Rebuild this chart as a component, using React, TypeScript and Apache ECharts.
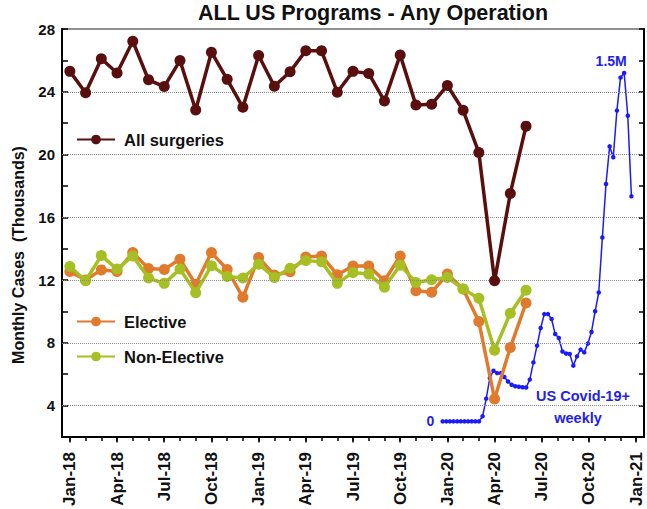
import React, { useEffect, useRef } from 'react';
import * as echarts from 'echarts';

const categories = [
  'Jan-18', 'Feb-18', 'Mar-18', 'Apr-18', 'May-18', 'Jun-18', 'Jul-18', 'Aug-18', 'Sep-18', 'Oct-18', 'Nov-18', 'Dec-18',
  'Jan-19', 'Feb-19', 'Mar-19', 'Apr-19', 'May-19', 'Jun-19', 'Jul-19', 'Aug-19', 'Sep-19', 'Oct-19', 'Nov-19', 'Dec-19',
  'Jan-20', 'Feb-20', 'Mar-20', 'Apr-20', 'May-20', 'Jun-20', 'Jul-20', 'Aug-20', 'Sep-20', 'Oct-20', 'Nov-20', 'Dec-20',
  'Jan-21',
];

const allSurgeries = [
  25.3, 23.94, 26.1, 25.2, 27.22, 24.76, 24.33, 25.99, 22.84, 26.52, 24.79, 23.01,
  26.31, 24.35, 25.28, 26.62, 26.61, 23.97, 25.3, 25.17, 23.41, 26.35, 23.15, 23.2,
  24.4, 22.82, 20.13, 11.95, 17.52, 21.81,
];

const elective = [
  12.55, 12.0, 12.65, 12.55, 13.75, 12.74, 12.68, 13.33, 11.73, 13.75, 12.68, 10.9,
  13.44, 12.32, 12.53, 13.47, 13.54, 12.34, 12.9, 12.9, 11.96, 13.54, 11.32, 11.22,
  12.38, 11.43, 9.36, 4.42, 7.7, 10.54,
];

const nonElective = [
  12.87, 11.96, 13.56, 12.7, 13.54, 12.13, 11.79, 12.7, 11.2, 12.91, 12.23, 12.13,
  13.01, 12.17, 12.76, 13.25, 13.16, 11.79, 12.49, 12.38, 11.54, 12.95, 11.85, 12.02,
  12.17, 11.43, 10.84, 7.53, 9.89, 11.35,
];

// US Covid-19+ weekly cases (thousands), starting late Dec-2019
const covidWeekly = [
  0, 0, 0, 0, 0, 0, 0, 0, 0, 0, 0,
  22, 98, 187, 218, 208, 208, 191, 172, 158, 151, 149, 147, 146, 180, 254, 326,
  402, 462, 462, 441, 376, 359, 301, 292, 290, 240, 280, 309, 297, 335, 385, 474,
  555, 792, 1022, 1184, 1137, 1338, 1480, 1500, 1316, 969,
];
const covidStartMonth = 23.7; // months after Jan-18
const weeksPerMonth = 52 / 12;

const gridLineValues = [4, 8, 12, 16, 20, 24];

const FONT = 'Liberation Sans, Arial, sans-serif';
const C_ALL = '#5a0f0f';
const C_ELEC = '#e07a2c';
const C_NON = '#a6bf22';
const C_COVID = '#1a1aff';
const C_COVID_TEXT = '#2222ee';

export default function App() {
  const ref = useRef<HTMLDivElement>(null);
  useEffect(() => {
    if (!ref.current) return;
    const chart = echarts.init(ref.current, null, { renderer: 'svg' });
    const peakIdx = covidWeekly.indexOf(Math.max(...covidWeekly));
    const covidData = covidWeekly.map((v, i) => {
      const item: any = { value: [covidStartMonth + i / weeksPerMonth, v] };
      if (i === 0) {
        item.label = { show: true, position: 'left', distance: 6, formatter: '0', color: C_COVID_TEXT, fontSize: 14, fontWeight: 'bold', fontFamily: FONT };
      }
      if (i === peakIdx) {
        item.label = { show: true, position: 'top', distance: 3, offset: [-13, 0], formatter: '1.5M', color: C_COVID_TEXT, fontSize: 14, fontWeight: 'bold', fontFamily: FONT };
      }
      return item;
    });

    const legendCommon = {
      orient: 'horizontal',
      left: 76,
      itemWidth: 38,
      itemHeight: 12,
      padding: 0,
      textStyle: { fontSize: 16.5, fontWeight: 'bold', color: '#111', fontFamily: FONT, padding: [0, 0, 0, 4] },
    };

    chart.setOption({
      animation: false,
      backgroundColor: '#fff',
      grid: { left: 62, right: 3, top: 29, bottom: 72, show: true, borderColor: '#222', borderWidth: 1.2, backgroundColor: 'transparent' },
      legend: [
        { ...legendCommon, data: ['All surgeries'], top: 131 },
        { ...legendCommon, data: ['Elective'], top: 313 },
        { ...legendCommon, data: ['Non-Elective'], top: 348 },
      ],
      xAxis: [
        {
          type: 'category', data: categories, boundaryGap: true, position: 'bottom',
          axisLine: { show: true, onZero: false, lineStyle: { color: '#000', width: 2 } },
          axisTick: { show: true, alignWithLabel: true, interval: 0, length: 4, lineStyle: { color: '#000', width: 1.5 } },
          axisLabel: { show: false },
          splitLine: { show: false },
        },
        {
          type: 'category', data: categories, boundaryGap: true, position: 'bottom',
          axisLine: { show: false, onZero: false },
          axisTick: { show: true, alignWithLabel: true, interval: 2, length: 5.5, lineStyle: { color: '#000', width: 1.5 } },
          axisLabel: { show: true, interval: 2, rotate: 90, margin: 15, fontSize: 17, fontWeight: 'bold', color: '#111', fontFamily: FONT },
          splitLine: { show: false },
        },
        { type: 'value', min: -0.5, max: 36.5, show: false, axisLine: { onZero: false } },
      ],
      yAxis: [
        {
          type: 'value', min: 2, max: 28, interval: 2, position: 'left',
          axisLine: { show: true, onZero: false, lineStyle: { color: '#000', width: 2 } },
          axisTick: { show: true, inside: true, length: 6, lineStyle: { color: '#000', width: 1.5 } },
          axisLabel: {
            show: true, margin: 7, fontSize: 15, fontWeight: 'bold', color: '#111', fontFamily: FONT,
            formatter: (v: number) => (v % 4 === 0 ? String(v) : ''),
          },
          splitLine: { show: false },
        },
        {
          type: 'value', min: 2, max: 28, interval: 2, position: 'right',
          axisLine: { show: true, onZero: false, lineStyle: { color: '#000', width: 2 } },
          axisTick: { show: true, inside: true, length: 5, lineStyle: { color: '#000', width: 1.5 } },
          axisLabel: { show: false },
          splitLine: { show: false },
        },
        { type: 'value', min: -67.2, max: 1689.4, show: false, axisLine: { onZero: false } },
      ],
      series: [
        {
          name: 'Gridlines', type: 'line', xAxisIndex: 0, yAxisIndex: 0,
          data: [], silent: true, z: 1,
          markLine: {
            silent: true, symbol: ['none', 'none'], label: { show: false },
            lineStyle: { color: '#8a8a8a', type: 'dotted', width: 1 },
            data: gridLineValues.map((v) => ({ yAxis: v })),
          },
        },
        {
          name: 'US Covid-19+ weekly', type: 'line', xAxisIndex: 2, yAxisIndex: 2,
          data: covidData, symbol: 'circle', symbolSize: 4.5, showSymbol: true,
          itemStyle: { color: C_COVID }, lineStyle: { color: C_COVID, width: 1.5 },
          z: 2,
        },
        {
          name: 'Elective', type: 'line', xAxisIndex: 0, yAxisIndex: 0,
          data: elective, symbol: 'circle', symbolSize: 11, showSymbol: true, showAllSymbol: true,
          itemStyle: { color: C_ELEC }, lineStyle: { color: C_ELEC, width: 3.5 },
          z: 3,
        },
        {
          name: 'Non-Elective', type: 'line', xAxisIndex: 0, yAxisIndex: 0,
          data: nonElective, symbol: 'circle', symbolSize: 11, showSymbol: true, showAllSymbol: true,
          itemStyle: { color: C_NON }, lineStyle: { color: C_NON, width: 3.5 },
          z: 4,
        },
        {
          name: 'All surgeries', type: 'line', xAxisIndex: 0, yAxisIndex: 0,
          data: allSurgeries, symbol: 'circle', symbolSize: 11, showSymbol: true, showAllSymbol: true,
          itemStyle: { color: C_ALL }, lineStyle: { color: C_ALL, width: 3.5 },
          z: 5,
        },
      ],
      graphic: [
        {
          type: 'text', x: 373, y: 13,
          style: { text: 'ALL US Programs - Any Operation', fill: '#111', font: `bold 21.5px ${FONT}`, textAlign: 'center', textVerticalAlign: 'middle' },
        },
        {
          type: 'text', x: 18, y: 255, rotation: Math.PI / 2,
          style: { text: 'Monthly Cases  (Thousands)', fill: '#111', font: `bold 16px ${FONT}`, textAlign: 'center', textVerticalAlign: 'middle' },
        },
        {
          type: 'text', x: 583, y: 396,
          style: { text: 'US Covid-19+', fill: C_COVID_TEXT, font: `bold 14.5px ${FONT}`, textAlign: 'center', textVerticalAlign: 'middle' },
        },
        {
          type: 'text', x: 578, y: 418,
          style: { text: 'weekly', fill: C_COVID_TEXT, font: `bold 14.5px ${FONT}`, textAlign: 'center', textVerticalAlign: 'middle' },
        },
      ],
    });
    return () => chart.dispose();
  }, []);
  return <div ref={ref} style={{ position: 'absolute', left: 0, top: 0, width: 647, height: 509 }} />;
}
